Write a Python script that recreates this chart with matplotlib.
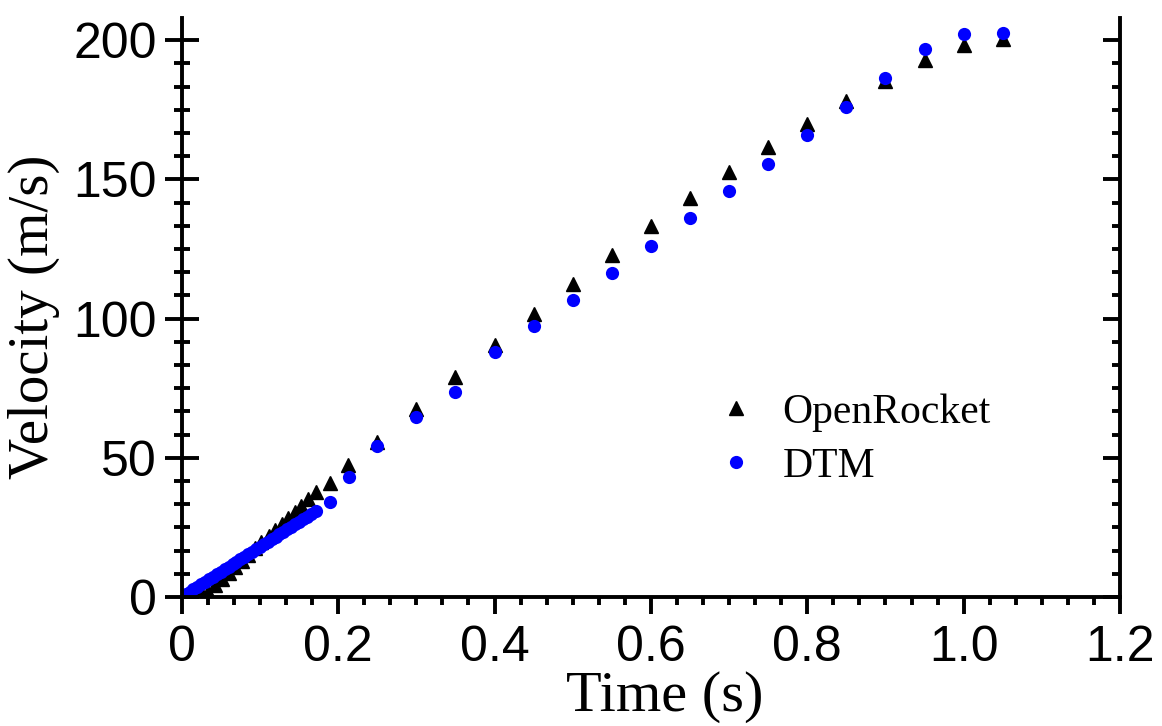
import matplotlib
matplotlib.use("Agg")
import matplotlib.pyplot as plt
from matplotlib.ticker import AutoMinorLocator

# OpenRocket (triangles)
t_open = [0.0, 0.009, 0.018, 0.026, 0.034, 0.043, 0.051, 0.060, 0.068, 0.077,
          0.085, 0.094, 0.102, 0.111, 0.119, 0.128, 0.136, 0.145, 0.153, 0.162,
          0.172, 0.189, 0.213, 0.25, 0.30, 0.35, 0.40, 0.45, 0.50, 0.55,
          0.60, 0.65, 0.70, 0.75, 0.80, 0.85, 0.90, 0.95, 1.00, 1.05]
v_open = [0.0, 0.1, 0.3, 0.9, 1.9, 4.2, 6.3, 8.6, 10.7, 13.0,
          15.2, 17.5, 19.6, 21.9, 24.0, 26.3, 28.4, 30.7, 32.8, 35.1,
          37.6, 41.0, 47.4, 55.8, 67.4, 79.1, 90.5, 101.6, 112.4, 123.0,
          133.3, 143.2, 152.5, 161.6, 170.1, 178.2, 185.4, 192.8, 198.2, 200.6]

# DTM (circles)
t_dtm = [0.0, 0.005, 0.01, 0.015, 0.02, 0.025, 0.03, 0.035, 0.04, 0.045,
         0.05, 0.055, 0.06, 0.065, 0.07, 0.075, 0.08, 0.085, 0.09, 0.095,
         0.10, 0.105, 0.11, 0.115, 0.12, 0.125, 0.13, 0.135, 0.14, 0.145,
         0.15, 0.155, 0.16, 0.165, 0.172, 0.19, 0.214, 0.25, 0.30, 0.35,
         0.40, 0.45, 0.50, 0.55, 0.60, 0.65, 0.70, 0.75, 0.80, 0.85,
         0.90, 0.95, 1.00, 1.05]
v_dtm = [0.0, 0.9, 1.8, 2.7, 3.6, 4.5, 5.4, 6.3, 7.2, 8.1,
         9.0, 9.9, 10.8, 11.7, 12.6, 13.5, 14.4, 15.3, 16.2, 17.1,
         18.0, 18.9, 19.8, 20.7, 21.6, 22.5, 23.4, 24.3, 25.2, 26.1,
         27.0, 27.9, 28.8, 29.7, 31.0, 34.0, 43.0, 54.2, 64.5, 73.7,
         87.9, 97.3, 106.6, 116.4, 126.1, 136.0, 145.8, 155.7, 165.9, 176.1,
         186.5, 196.8, 202.2, 202.6]

x_ticks = [0, 0.2, 0.4, 0.6, 0.8, 1.0, 1.2]
x_labels = ["0", "0.2", "0.4", "0.6", "0.8", "1.0", "1.2"]
y_ticks = [0, 50, 100, 150, 200]

sans = "Liberation Sans"
serif = "Liberation Serif"
lw = 2.8

fig = plt.figure(figsize=(11.62, 7.26), dpi=100)
ax = fig.add_axes([0.1564, 0.1777, 0.8075, 0.7975])

ax.plot(t_open, v_open, linestyle="none", marker="^", markersize=10,
        color="black", label="OpenRocket")
ax.plot(t_dtm, v_dtm, linestyle="none", marker="o", markersize=9.5,
        color="#0000ff", markeredgewidth=0, label="DTM")

ax.set_xlim(0, 1.2)
ax.set_ylim(0, 208)
ax.set_xticks(x_ticks)
ax.set_xticklabels(x_labels)
ax.set_yticks(y_ticks)
ax.xaxis.set_minor_locator(AutoMinorLocator(6))
ax.yaxis.set_minor_locator(AutoMinorLocator(6))

ax.spines["top"].set_visible(False)
ax.spines["right"].set_visible(False)
for s in ["left", "bottom"]:
    ax.spines[s].set_linewidth(lw)

ax.tick_params(axis="x", which="both", direction="out", width=lw, pad=8)
ax.tick_params(axis="x", which="major", length=12)
ax.tick_params(axis="x", which="minor", length=6)
ax.tick_params(axis="y", which="both", direction="inout", width=lw, pad=6,
               right=False)
ax.tick_params(axis="y", which="major", length=24)
ax.tick_params(axis="y", which="minor", length=12)

for lab in ax.get_xticklabels() + ax.get_yticklabels():
    lab.set_fontfamily(sans)
    lab.set_fontsize(36)

# right-hand axis: ticks pointing inwards only
rax = ax.twinx()
rax.set_ylim(ax.get_ylim())
rax.set_yticks(y_ticks)
rax.yaxis.set_minor_locator(AutoMinorLocator(6))
rax.tick_params(which="both", direction="in", width=lw, labelright=False)
rax.tick_params(which="major", length=12)
rax.tick_params(which="minor", length=6)
for s in ["top", "left", "bottom"]:
    rax.spines[s].set_visible(False)
rax.spines["right"].set_linewidth(lw)

ax.set_xlabel("Time (s)", fontfamily=serif, fontsize=42)
ax.set_ylabel("Velocity (m/s)", fontfamily=serif, fontsize=41)
ax.xaxis.set_label_coords(0.515, -0.128)
ax.yaxis.set_label_coords(-0.130, 0.484)

ax.legend(loc="center left", bbox_to_anchor=(0.569, 0.272), frameon=False,
          prop={"family": serif, "size": 30}, handlelength=1.0,
          handletextpad=0.6, labelspacing=0.38, borderpad=0, borderaxespad=0,
          markerscale=1.0)

fig.savefig("out.png", dpi=100)
